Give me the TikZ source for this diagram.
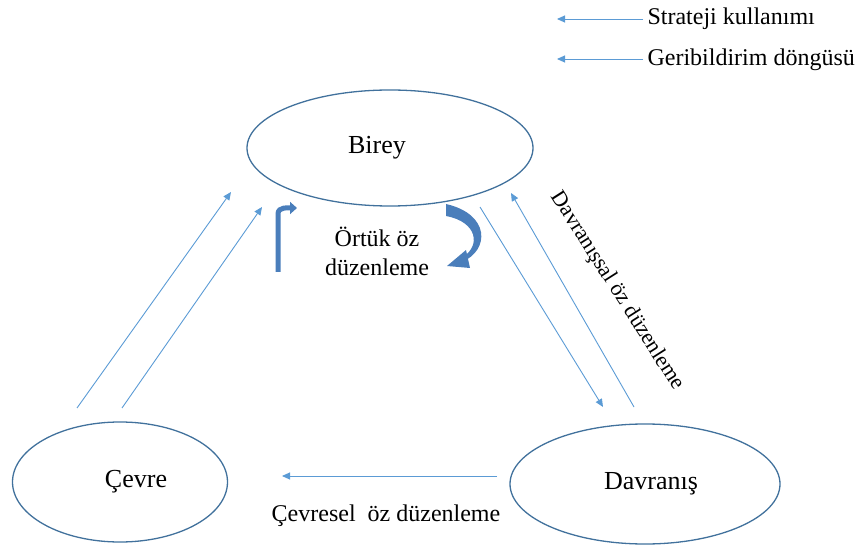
\documentclass[tikz,border=0pt]{standalone}
\usepackage{fontspec}
\setmainfont{Liberation Serif}
\usetikzlibrary{arrows.meta,shapes.geometric}
\definecolor{edge}{HTML}{41719C}
\definecolor{thinblue}{HTML}{5B9BD5}
\definecolor{bigblue}{HTML}{4A7EBB}
\begin{document}
\begin{tikzpicture}[x=1pt,y=-1pt,
  conn/.style={draw=thinblue,line width=0.9pt,-{Triangle[width=7pt,length=8pt]}},
  lbl/.style={font=\fontsize{24}{29}\selectfont},
  elbl/.style={font=\fontsize{26}{30}\selectfont},
  oval/.style={draw=edge,line width=1.3pt,ellipse},
  big/.style={line width=5pt,draw=bigblue}]
\useasboundingbox (0,0) rectangle (860,545);
\node[oval,minimum width=286pt,minimum height=116pt,elbl] (birey) at (390,148) {Birey\hspace*{26pt}};
\node[oval,minimum width=215pt,minimum height=120pt,elbl] (cevre) at (120,482) {\hspace*{32pt}Çevre};
\node[oval,minimum width=270pt,minimum height=120pt,elbl] (davranis) at (645,484) {\hspace*{12pt}Davranış};
% legend
\coordinate (l1s) at (643,19); \coordinate (l1e) at (557,19);
\coordinate (l2s) at (643,59); \coordinate (l2e) at (557,59);
\draw[conn] (l1s) -- (l1e);
\draw[conn] (l2s) -- (l2e);
\node[lbl,anchor=west] (t1) at (644,19) {Strateji kullanımı};
\node[lbl,anchor=west] (t2) at (644,60) {Geribildirim döngüsü};
% left arrows
\coordinate (a1s) at (77,408); \coordinate (a1e) at (231,192);
\coordinate (a2s) at (122,408); \coordinate (a2e) at (262,207);
\draw[conn] (a1s) -- (a1e);
\draw[conn] (a2s) -- (a2e);
% right arrows
\coordinate (b1s) at (480,207); \coordinate (b1e) at (603,407);
\coordinate (b2s) at (634,407); \coordinate (b2e) at (511,193);
\draw[conn] (b1s) -- (b1e);
\draw[conn] (b2s) -- (b2e);
% bottom arrow
\coordinate (c1s) at (497,476); \coordinate (c1e) at (282,476);
\draw[conn] (c1s) -- (c1e);
% labels
\node[font=\fontsize{22}{26}\selectfont,rotate=-57.5] (dl) at (617,291) {Davranışsal öz düzenleme};
\node[lbl] (cl) at (386,516) {Çevresel\ \ öz düzenleme};
\node[lbl,align=center] (ol) at (377,251) {Örtük öz\\düzenleme};
% thick arrows
\coordinate (ls) at (278,272); \coordinate (le) at (297,208);
\draw[big,-{Triangle[width=12pt,length=7pt]}] (ls) -- (278,214) to[out=90,in=180] (le);
\fill[bigblue] (446,204) .. controls (490,214) and (490,250) .. (462,262)
  -- (464,256) .. controls (480,246) and (478,222) .. (446,216) -- cycle;
\fill[bigblue] (447,266) -- (466,250) -- (470,268) -- cycle;
\end{tikzpicture}
\end{document}
